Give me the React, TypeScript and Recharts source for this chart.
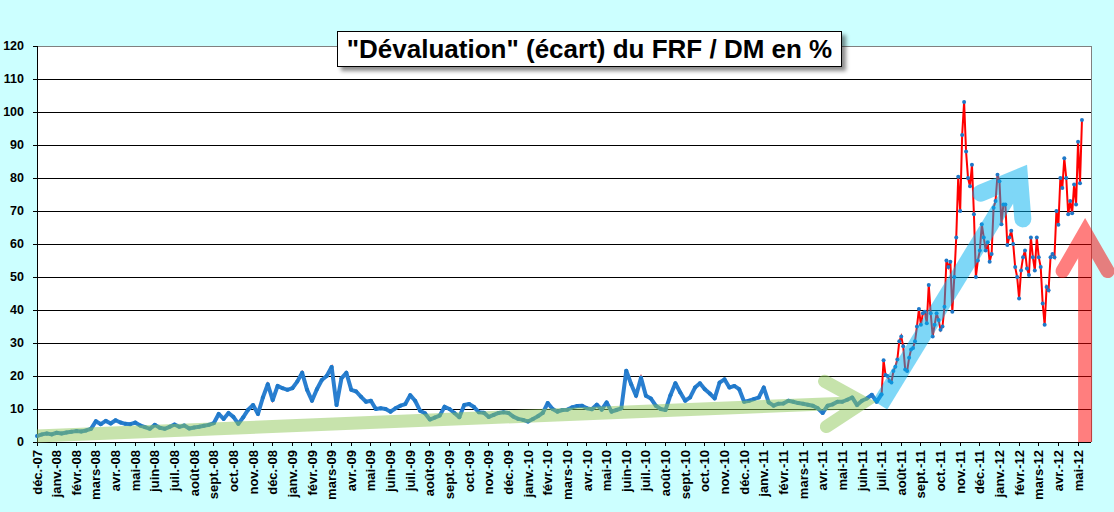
import { LineChart, Line, XAxis, YAxis, CartesianGrid, ReferenceLine } from 'recharts';

const FONT = '"Liberation Sans", Arial, sans-serif';

// month names as Excel prints them in French (mmm-yy)
const MONTH_NAMES = ['janv.', 'févr.', 'mars', 'avr.', 'mai', 'juin', 'juil.', 'août', 'sept.', 'oct.', 'nov.', 'déc.'];
const MONTH_TICKS = Array.from({ length: 54 }, (_, i) => i); // déc.-07 .. mai-12
const Y_TICKS = [0, 10, 20, 30, 40, 50, 60, 70, 80, 90, 100, 110, 120];

// weekly-ish readings (one every quarter month), starting déc. 2007
const dec2007 = [1.8, 2.3, 2.6, 2.3];
const y2008 = [
  2.8, 2.6, 2.9, 3.1, 3.3, 3.2, 3.5, 4.0, 6.3, 5.4, 6.4, 5.6,
  6.6, 5.9, 5.5, 5.4, 5.9, 5.0, 4.5, 4.0, 5.2, 4.3, 4.0, 4.6,
  5.3, 4.6, 5.0, 4.1, 4.4, 4.6, 4.9, 5.2, 5.7, 8.5, 7.0, 8.8,
  7.6, 5.5, 7.5, 9.8, 11.2, 8.5, 13.5, 17.5, 12.7, 17.0, 16.3, 15.8,
];
const y2009 = [
  16.3, 18.3, 21.0, 15.8, 12.5, 16.0, 18.8, 20.0, 22.7, 11.2, 19.3, 21.0,
  15.8, 15.3, 13.7, 12.2, 12.5, 10.0, 10.2, 10.0, 9.2, 10.2, 11.0, 11.5,
  14.2, 12.5, 9.5, 8.7, 6.8, 7.4, 8.0, 10.7, 10.0, 8.8, 7.5, 11.2,
  11.5, 10.6, 9.0, 8.9, 7.6, 8.2, 8.8, 9.0, 8.8, 7.7, 7.0, 6.7,
];
const y2010 = [
  6.2, 7.0, 7.8, 8.8, 11.8, 10.0, 9.2, 9.7, 9.8, 10.5, 10.9, 11.0,
  10.2, 9.9, 11.3, 9.8, 12.0, 9.2, 9.7, 10.2, 21.6, 17.5, 14.0, 19.5,
  14.0, 13.2, 11.0, 10.0, 9.7, 14.2, 17.8, 15.0, 12.5, 13.5, 16.5, 17.8,
  16.0, 14.7, 13.2, 18.0, 19.0, 16.5, 17.0, 16.0, 12.2, 12.5, 13.0, 13.5,
];
const h1_2011 = [
  16.5, 12.0, 11.0, 11.6, 11.7, 12.5, 12.2, 11.8, 11.6, 11.3, 11.0, 10.2,
  8.8, 11.0, 11.4, 12.2, 12.2, 12.8, 13.5, 11.2, 12.5, 13.2, 14.3, 12.2,
];
// denser readings (every tenth of a month) from juil. 2011 on
const crisis = [
  14.5, 24.8, 20.3, 20.0, 18.5, 18.0, 21.5, 22.8, 25.0, 30.5,
  32.0, 29.0, 22.0, 21.5, 25.5, 28.0, 28.5, 30.5, 35.0, 40.3,
  35.5, 39.0, 39.5, 36.0, 47.6, 39.0, 32.0, 35.5, 39.0, 37.0,
  34.0, 35.0, 41.0, 55.0, 53.0, 54.6, 39.5, 50.0, 62.0, 80.4,
  70.0, 93.0, 103.0, 88.0, 80.0, 77.5, 84.0, 69.0, 50.0, 55.0,
  58.0, 66.0, 62.0, 58.0, 60.5, 54.6, 57.0, 71.0, 73.0, 81.0,
  79.0, 66.0, 72.0, 72.0, 59.7, 62.0, 64.0, 60.0, 53.0, 50.0,
  43.5, 52.0, 56.0, 58.0, 52.6, 50.6, 62.0, 56.0, 52.0, 62.0,
  56.0, 53.0, 42.0, 35.5, 47.0, 46.0, 56.0, 57.0, 56.0, 70.0,
  65.8, 80.0, 77.0, 86.0, 80.0, 69.0, 73.0, 69.3, 78.0, 72.0,
  91.0, 78.4, 97.6,
];

const weekly = [...dec2007, ...y2008, ...y2009, ...y2010, ...h1_2011];
const data = [
  ...weekly.map((v, i) => ({ m: i * 0.25, v, calm: v })),
  ...crisis.map((v, i) => ({ m: 43 + i * 0.1, v, calm: i === 0 ? v : null })),
];

const monthLabel = (i: number) => {
  const k = 11 + i;
  const yy = 7 + Math.floor(k / 12);
  return `${MONTH_NAMES[k % 12]}-${String(yy).padStart(2, '0')}`;
};

const MonthTick = ({ x, y, payload }: any) => (
  <text
    x={0}
    y={0}
    transform={`translate(${x},${y + 2}) rotate(-90)`}
    textAnchor="end"
    dy="0.35em"
    fontFamily={FONT}
    fontWeight="bold"
    fontSize={13}
    fill="#000"
  >
    {monthLabel(payload.value)}
  </text>
);

const Dot = (p: any) =>
  p.cy == null ? <g key={p.index} /> : <circle key={p.index} cx={p.cx} cy={p.cy} r={2} fill="#1e78c8" />;

// arrow overlay: shaft from start to tip, chevron head drawn in pixels around the tip
const arrowShape = (color: string, width: number, armLen: number, armDeg: number) => (p: any) => {
  const { x1, y1, x2, y2 } = p;
  const len = Math.hypot(x2 - x1, y2 - y1) || 1;
  const bx = (x1 - x2) / len;
  const by = (y1 - y2) / len;
  const a = (armDeg * Math.PI) / 180;
  const rot = (s: number) => [
    x2 + armLen * (bx * Math.cos(s * a) - by * Math.sin(s * a)),
    y2 + armLen * (bx * Math.sin(s * a) + by * Math.cos(s * a)),
  ];
  const [ax1, ay1] = rot(1);
  const [ax2, ay2] = rot(-1);
  return (
    <g opacity={0.5}>
      <path d={`M${x1},${y1}L${x2},${y2}`} stroke={color} strokeWidth={width} fill="none" strokeLinecap="butt" />
      <path
        d={`M${ax1},${ay1}L${x2},${y2}L${ax2},${ay2}`}
        stroke={color}
        strokeWidth={width}
        fill="none"
        strokeLinecap="round"
        strokeLinejoin="miter"
      />
    </g>
  );
};

const MARGIN = { top: 46, right: 23, left: 0, bottom: 0 };

export default function App() {
  return (
    <div style={{ position: 'absolute', left: 0, top: 0, width: 1114, height: 512, background: '#ccffff' }}>
      <LineChart width={1114} height={512} data={data} margin={MARGIN}>
        <CartesianGrid vertical={false} stroke="#000" fill="#fff" shapeRendering="crispEdges" />
        <XAxis
          type="number"
          dataKey="m"
          domain={[0, 53.66]}
          ticks={MONTH_TICKS}
          interval={0}
          height={70}
          tick={<MonthTick />}
          tickSize={4}
          axisLine={{ stroke: '#000', shapeRendering: 'crispEdges' }}
          tickLine={{ stroke: '#000', shapeRendering: 'crispEdges' }}
        />
        <YAxis
          domain={[0, 120]}
          ticks={Y_TICKS}
          width={37}
          tickSize={4}
          tickMargin={9}
          axisLine={{ stroke: '#000', shapeRendering: 'crispEdges' }}
          tickLine={{ stroke: '#000', shapeRendering: 'crispEdges' }}
          tick={{ fill: '#000', fontSize: 12.5, fontWeight: 'bold', fontFamily: FONT }}
        />
        <ReferenceLine y={120} stroke="#808080" shapeRendering="crispEdges" />
        <ReferenceLine x={53.66} stroke="#808080" shapeRendering="crispEdges" />
        <Line
          type="linear"
          dataKey="v"
          stroke="#ff0000"
          strokeWidth={2}
          dot={Dot}
          isAnimationActive={false}
        />
        <Line
          type="linear"
          dataKey="calm"
          stroke="#2a7fd0"
          strokeWidth={4}
          strokeLinejoin="round"
          dot={false}
          isAnimationActive={false}
        />
      </LineChart>

      {/* transparent twin chart with the same scales, so the arrows sit on top of the series */}
      <div style={{ position: 'absolute', left: 0, top: 0, pointerEvents: 'none' }}>
        <LineChart width={1114} height={512} data={data} margin={MARGIN}>
          <XAxis
            type="number"
            dataKey="m"
            domain={[0, 53.66]}
            ticks={MONTH_TICKS}
            height={70}
            tick={false}
            axisLine={false}
            tickLine={false}
          />
          <YAxis domain={[0, 120]} ticks={Y_TICKS} width={37} tick={false} axisLine={false} tickLine={false} />
          <Line dataKey="v" stroke="none" strokeOpacity={0} dot={false} isAnimationActive={false} />
          <ReferenceLine
            segment={[{ x: 0, y: 1.8 }, { x: 42.06, y: 12.0 }]}
            ifOverflow="visible"
            shape={arrowShape('#8fc85a', 13, 44, 31)}
          />
          <ReferenceLine
            segment={[{ x: 42.92, y: 11.2 }, { x: 50.02, y: 80.3 }]}
            ifOverflow="visible"
            shape={arrowShape('#00b0f0', 17, 42, 36)}
          />
          <ReferenceLine
            segment={[{ x: 53.36, y: 0 }, { x: 53.36, y: 63.6 }]}
            ifOverflow="visible"
            shape={arrowShape('#ff0000', 14, 45, 30)}
          />
        </LineChart>
      </div>

      <div
        style={{
          position: 'absolute',
          left: 337,
          top: 31,
          width: 503,
          height: 34,
          border: '1px solid #000',
          background: '#fff',
          boxShadow: '4px 4px 4px rgba(0,0,0,0.45)',
          fontFamily: FONT,
          fontWeight: 'bold',
          fontSize: 26,
          display: 'flex',
          alignItems: 'center',
          justifyContent: 'center',
          whiteSpace: 'nowrap',
          color: '#000',
        }}
      >
        "Dévaluation" (écart) du FRF / DM en %
      </div>
    </div>
  );
}
